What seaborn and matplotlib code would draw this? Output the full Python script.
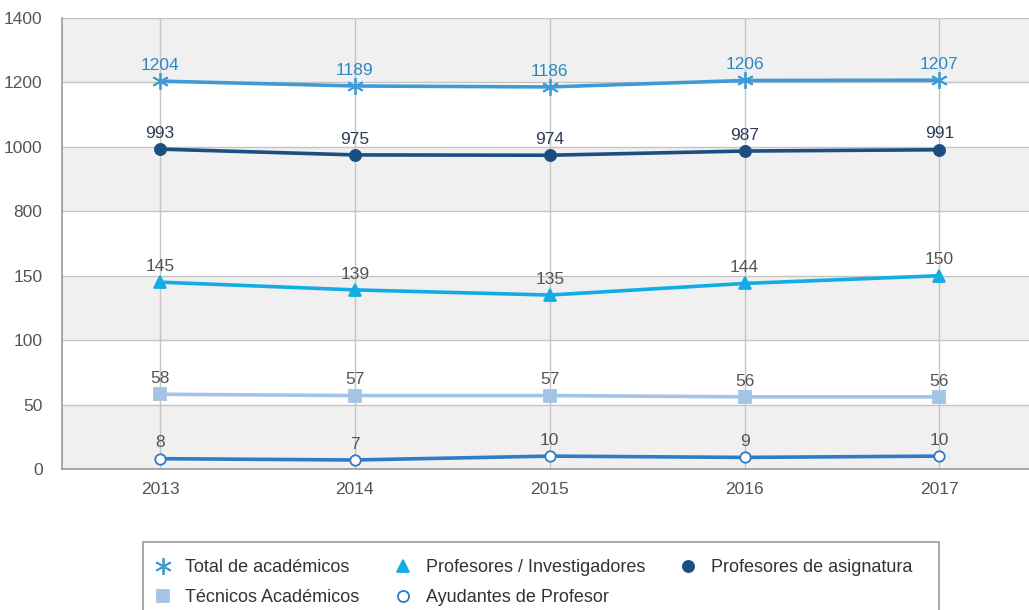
import numpy as np
import pandas as pd
import matplotlib
matplotlib.use("Agg")
import matplotlib.pyplot as plt
from matplotlib.lines import Line2D
from matplotlib.patches import Rectangle
import seaborn as sns

years = [2013, 2014, 2015, 2016, 2017]
total = [1204, 1189, 1186, 1206, 1207]
prof_asig = [993, 975, 974, 987, 991]
prof_inv = [145, 139, 135, 144, 150]
tecnicos = [58, 57, 57, 56, 56]
ayudantes = [8, 7, 10, 9, 10]
ytick_values = [0, 50, 100, 150, 800, 1000, 1200, 1400]

# name, values, color, marker, facecolor, label color, marker size
series = [
    ("Total de académicos", total, "#3f9bd6", (6, 2, 0), "#3f9bd6", "#2b88c2", 12),
    ("Profesores / Investigadores", prof_inv, "#14ace6", "^", "#14ace6", "#555555", 8.5),
    ("Profesores de asignatura", prof_asig, "#1b4f80", "o", "#1b4f80", "#2d3b55", 8),
    ("Técnicos Académicos", tecnicos, "#a4c4e6", "s", "#a4c4e6", "#555555", 8),
    ("Ayudantes de Profesor", ayudantes, "#2f7cc6", "o", "white", "#555555", 7.5),
]

sns.set_theme(style="white")
plt.rcParams["font.family"] = ["Liberation Sans", "DejaVu Sans"]

def fwd(v):
    v = np.asarray(v, dtype=float)
    return np.where(v <= 150, v / 50.0,
                    np.where(v <= 800, 3 + (v - 150) / 650.0, 4 + (v - 800) / 200.0))

def inv(p):
    p = np.asarray(p, dtype=float)
    return np.where(p <= 3, p * 50.0,
                    np.where(p <= 4, 150 + (p - 3) * 650.0, 800 + (p - 4) * 200.0))

fig = plt.figure(figsize=(10.29, 6.10), dpi=100)
ax = fig.add_axes([62 / 1029, 1 - 469 / 610, 1 - 62 / 1029, (469 - 18) / 610])
ax.set_yscale("function", functions=(fwd, inv))
ax.set_ylim(0, 1400)
ax.set_xlim(2012.497, 2017.46)

bands = [(0, 50), (100, 150), (800, 1000), (1200, 1400)]
for lo, hi in bands:
    ax.axhspan(lo, hi, color="#f0f0f0", zorder=0, lw=0)

for name, vals, col, mk, mfc, lblcol, ms in series:
    df = pd.DataFrame({"year": years, "value": vals})
    sns.lineplot(data=df, x="year", y="value", ax=ax, color=col, lw=2.6,
                 marker=mk, markersize=ms,
                 markerfacecolor=mfc, markeredgecolor=col,
                 markeredgewidth=1.3, zorder=3)
    for x, v in zip(years, vals):
        ax.annotate(str(v), (x, v), xytext=(0, 6), textcoords="offset points",
                    ha="center", va="bottom", fontsize=12.5, color=lblcol, zorder=4)

ax.set_yticks(ytick_values)
ax.set_yticklabels([str(v) for v in ytick_values])
ax.set_xticks(years)
ax.set_xticklabels([str(y) for y in years])
ax.grid(True, axis="both", color="#c4c4c4", lw=1.0, zorder=1)
ax.set_axisbelow(True)
ax.tick_params(axis="both", colors="#555555", labelsize=12.5, length=0)
ax.tick_params(axis="y", pad=14)
ax.tick_params(axis="x", pad=9)
ax.set_xlabel("")
ax.set_ylabel("")
for s in ["top", "right"]:
    ax.spines[s].set_visible(False)
for s in ["left", "bottom"]:
    ax.spines[s].set_color("#999999")
    ax.spines[s].set_linewidth(1.2)

handles = [Line2D([], [], linestyle="none", marker=mk, color=col, markerfacecolor=mfc,
                  markeredgecolor=col, markersize=ms if ms > 10 else 8,
                  markeredgewidth=1.3)
           for name, vals, col, mk, mfc, lblcol, ms in series]
labels = [s[0] for s in series]
order = [0, 3, 1, 4, 2]
leg = fig.legend([handles[i] for i in order], [labels[i] for i in order],
                 loc="upper left", bbox_to_anchor=(143 / 1029, 1 - 550 / 610),
                 ncol=3, frameon=False, fontsize=13,
                 handlelength=1.2, handletextpad=0.65, columnspacing=1.8,
                 borderpad=0.5, labelspacing=0.72, labelcolor="#333333",
                 borderaxespad=0)

# legend frame (extends past the bottom edge as in the reference)
fig.add_artist(Rectangle((143 / 1029, -0.05), (939 - 143) / 1029, 0.05 + (610 - 542) / 610,
                         transform=fig.transFigure, fill=False,
                         edgecolor="#999999", lw=1.2, zorder=0))

fig.savefig("out.png", dpi=100)
